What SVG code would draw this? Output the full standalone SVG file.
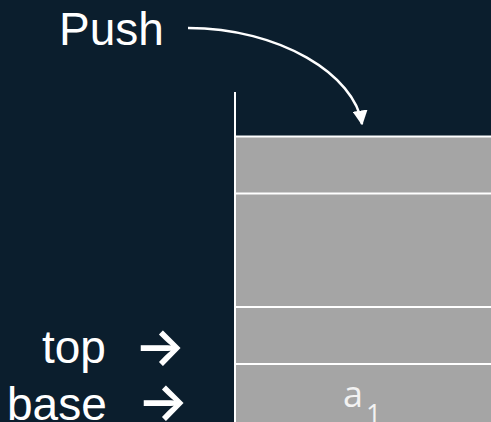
<svg xmlns="http://www.w3.org/2000/svg" width="491" height="422" viewBox="0 0 491 422">
  <style>
    .lbl { font-family: "Liberation Sans", Arial, sans-serif; font-size: 46px; fill: #ffffff; }
    .arr { font-family: Inter, "DejaVu Sans", sans-serif; font-size: 52px; fill: #ffffff; stroke: #ffffff; stroke-width: 1.4; }
    .cell { fill: #a5a5a5; }
    .sep { stroke: #ffffff; stroke-width: 2; fill: none; }
    .conn { stroke: #ffffff; stroke-width: 2.5; fill: none; }
    .val { font-family: "Open Sans", "Liberation Sans", sans-serif; fill: #f2f2f2; }
  </style>
  <defs>
    <marker id="ah" viewBox="0 0 10 10" refX="9" refY="5" markerWidth="6" markerHeight="6" markerUnits="strokeWidth" orient="auto">
      <path d="M0,0 L10,5 L0,10 Z" fill="#ffffff"/>
    </marker>
  </defs>
  <rect x="0" y="0" width="491" height="422" fill="#0b1e2d"/>

  <g id="stack">
    <rect class="cell" x="236" y="136" width="255" height="286"/>
    <line class="sep" x1="235" y1="92" x2="235" y2="422"/>
    <line class="sep" x1="235" y1="136.5" x2="491" y2="136.5"/>
    <line class="sep" x1="235" y1="193.5" x2="491" y2="193.5"/>
    <line class="sep" x1="235" y1="307" x2="491" y2="307"/>
    <line class="sep" x1="235" y1="364" x2="491" y2="364"/>
  </g>

  <g id="cell-a1">
    <text class="val" x="343" y="407" font-size="36">a</text>
    <text class="val" x="366" y="424" font-size="27">1</text>
  </g>

  <g id="push">
    <text class="lbl" x="59" y="45">Push</text>
  </g>

  <g id="top">
    <text class="lbl" x="42" y="363">top</text>
    <text class="arr" x="135" y="365">→</text>
  </g>

  <g id="base">
    <text class="lbl" x="7" y="420">base</text>
    <text class="arr" x="138" y="420">→</text>
  </g>

  <g id="connectors">
    <path class="conn" d="M188,28 C280,28 355,75 362,124" marker-end="url(#ah)"/>
  </g>
</svg>
